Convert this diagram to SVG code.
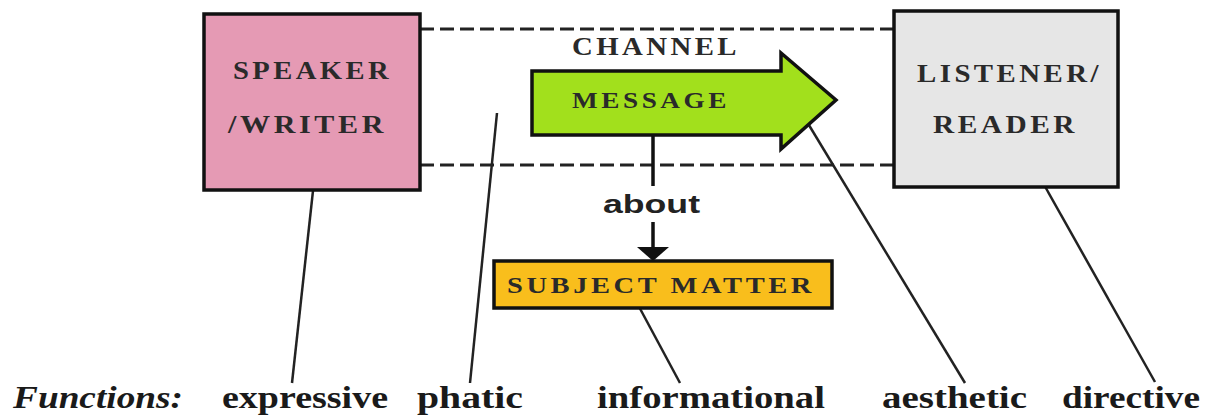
<svg xmlns="http://www.w3.org/2000/svg" width="1213" height="417" viewBox="0 0 1213 417">
<style>
.box{stroke:#111;stroke-width:3.5}
.cap{font-family:"Liberation Serif",serif;font-weight:bold;fill:#2a2a2a;letter-spacing:3px}
.fn{font-family:"Liberation Serif",serif;font-weight:bold;font-size:31px;fill:#1a1a1a}
.ln{stroke:#222;stroke-width:2.5;fill:none}
.dash{stroke:#222;stroke-width:3;stroke-dasharray:14 6;fill:none}
</style>
<rect width="1213" height="417" fill="#fff"/>
<g id="connectors">
<line class="dash" x1="420" y1="29" x2="894" y2="29"/>
<line class="dash" x1="420" y1="165" x2="894" y2="165"/>
<line x1="653" y1="136" x2="653" y2="186" stroke="#111" stroke-width="3.5"/>
<line x1="653" y1="222" x2="653" y2="250" stroke="#111" stroke-width="3.5"/>
<path d="M637,247 L669,247 L653,261 z" fill="#111"/>
<line class="ln" x1="318" y1="145" x2="292" y2="383"/>
<line class="ln" x1="497" y1="113" x2="470" y2="383"/>
<line class="ln" x1="637" y1="303" x2="680" y2="383"/>
<line class="ln" x1="795" y1="102" x2="965" y2="383"/>
<line class="ln" x1="1020" y1="142" x2="1155" y2="382"/>
</g>
<g id="speaker">
<rect class="box" x="204" y="14" width="216" height="176" fill="#E59AB4"/>
<text class="cap" x="233" y="79" font-size="25" textLength="159" lengthAdjust="spacingAndGlyphs">SPEAKER</text>
<text class="cap" x="228" y="133" font-size="25" textLength="159" lengthAdjust="spacingAndGlyphs">/WRITER</text>
</g>
<g id="listener">
<rect class="box" x="894" y="11" width="224" height="176" fill="#E6E6E6"/>
<text class="cap" x="917" y="82" font-size="25" textLength="185" lengthAdjust="spacingAndGlyphs">LISTENER/</text>
<text class="cap" x="933" y="133" font-size="25" textLength="145" lengthAdjust="spacingAndGlyphs">READER</text>
</g>
<g id="message">
<text class="cap" x="572" y="55" font-size="25" textLength="168" lengthAdjust="spacingAndGlyphs">CHANNEL</text>
<path class="box" d="M532,71 L781,71 L781,53 L836,100 L781,149 L781,135 L532,135 z" fill="#A2E01C" stroke-linejoin="miter"/>
<text class="cap" x="572" y="108" font-size="23" textLength="158" lengthAdjust="spacingAndGlyphs" fill="#333">MESSAGE</text>
</g>
<g id="about">
<text x="603" y="213" font-family="Liberation Sans, sans-serif" font-weight="bold" font-size="25" fill="#222" textLength="97" lengthAdjust="spacingAndGlyphs">about</text>
</g>
<g id="subject">
<rect class="box" x="494" y="261" width="338" height="47" fill="#F9BE1C"/>
<text class="cap" x="507" y="293" font-size="24" textLength="308" lengthAdjust="spacingAndGlyphs">SUBJECT MATTER</text>
</g>
<g id="functions">
<text class="fn" x="13" y="408" font-style="italic" textLength="170" lengthAdjust="spacingAndGlyphs">Functions:</text>
<text class="fn" x="222" y="408" textLength="166" lengthAdjust="spacingAndGlyphs">expressive</text>
<text class="fn" x="417" y="408" textLength="106" lengthAdjust="spacingAndGlyphs">phatic</text>
<text class="fn" x="597" y="408" textLength="228" lengthAdjust="spacingAndGlyphs">informational</text>
<text class="fn" x="882" y="408" textLength="145" lengthAdjust="spacingAndGlyphs">aesthetic</text>
<text class="fn" x="1062" y="408" textLength="138" lengthAdjust="spacingAndGlyphs">directive</text>
</g>
</svg>
